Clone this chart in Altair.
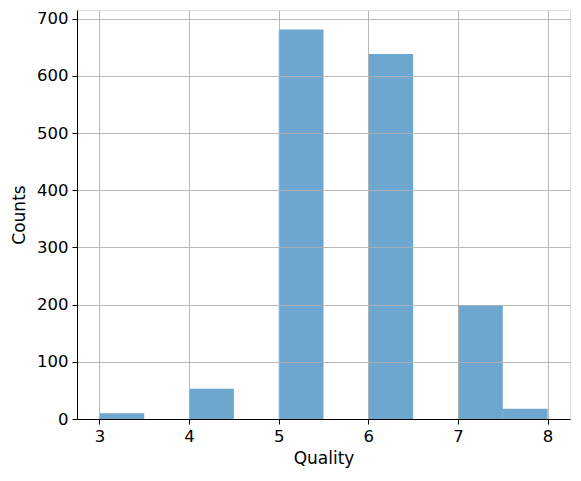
import altair as alt
import pandas as pd

bin_start = [3.0, 3.5, 4.0, 4.5, 5.0, 5.5, 6.0, 6.5, 7.0, 7.5]
bin_end = [3.5, 4.0, 4.5, 5.0, 5.5, 6.0, 6.5, 7.0, 7.5, 8.0]
counts = [10, 0, 53, 0, 681, 0, 638, 0, 199, 18]
x_ticks = [3, 4, 5, 6, 7, 8]
y_ticks = [0, 100, 200, 300, 400, 500, 600, 700]

df = pd.DataFrame({"start": bin_start, "end": bin_end, "count": counts})
df = df[df["count"] > 0]

axis_common = dict(
    grid=True, gridColor="#b0b0b0", gridWidth=0.9, zindex=1,
    domainColor="black", tickColor="black", tickSize=5, labelPadding=4,
    labelColor="black", labelFont="DejaVu Sans", labelFontSize=16.5,
    titleFont="DejaVu Sans", titleFontSize=17, titleFontWeight="normal",
    titleColor="black",
)

chart = alt.Chart(df).mark_bar(color="#1f77b4", opacity=0.65, binSpacing=0).encode(
    x=alt.X("start:Q", title="Quality",
            scale=alt.Scale(domain=[2.75, 8.25], nice=False, zero=False),
            axis=alt.Axis(values=x_ticks, format="d", titlePadding=6, **axis_common)),
    x2="end:Q",
    y=alt.Y("count:Q", title="Counts",
            scale=alt.Scale(domain=[0, 715.05], nice=False),
            axis=alt.Axis(values=y_ticks, format="d", titlePadding=8, **axis_common)),
    y2=alt.datum(0),
).properties(
    width=493, height=409,
    autosize=alt.AutoSizeParams(type="none"),
    padding={"left": 69, "top": 2, "right": 3, "bottom": 54},
).configure_view(
    stroke="black", strokeWidth=1
).configure(background="white")

chart.save("out.html", embed_options={"renderer": "svg", "actions": False})
